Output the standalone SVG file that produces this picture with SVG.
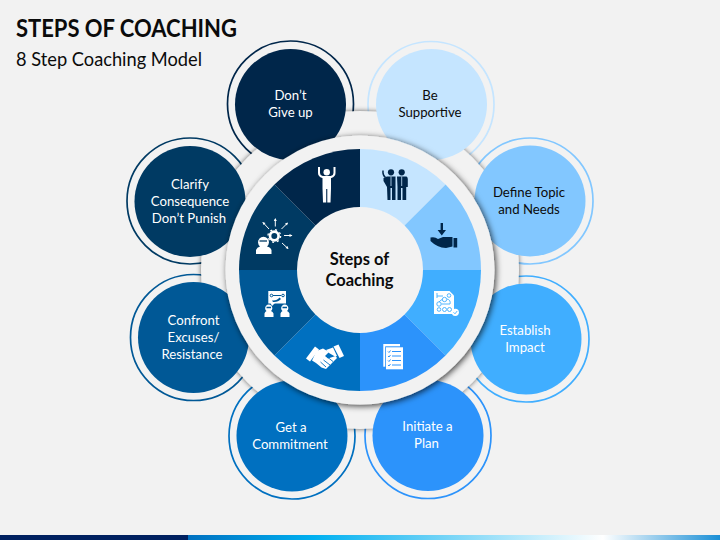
<svg xmlns="http://www.w3.org/2000/svg" width="720" height="540" viewBox="0 0 720 540">
<style>
text{font-family:"Lato","Liberation Sans",sans-serif}
.l{font-size:13.2px;text-anchor:middle;fill:#fff}
.d{fill:#0b0b0b}
.ring{fill:none;stroke-width:1.7}
.w{fill:#fff}.ws{stroke:#fff;fill:none}
.n{fill:#00264a}.ns{stroke:#00264a;fill:none}
</style>
<defs>
<linearGradient id="bar" x1="188" x2="720" y1="0" y2="0" gradientUnits="userSpaceOnUse">
<stop offset="0" stop-color="#0070c0"/><stop offset=".235" stop-color="#00b0f0"/><stop offset=".78" stop-color="#ffffff"/><stop offset="1" stop-color="#1a8fd6"/>
</linearGradient>
<filter id="sh1" x="-10%" y="-10%" width="120%" height="120%"><feDropShadow dx="0" dy="0" stdDeviation="2.5" flood-color="#000" flood-opacity=".6"/></filter>
<filter id="sh2" x="-10%" y="-10%" width="120%" height="120%"><feDropShadow dx="1.500" dy="1.500" stdDeviation="3" flood-color="#000" flood-opacity=".75"/></filter>
</defs>
<rect width="720" height="540" fill="#f2f2f2"/>
<rect y="535" width="188" height="5" fill="#002060"/>
<rect x="188" y="535" width="532" height="5" fill="url(#bar)"/>
<text x="16" y="37" font-size="25" font-weight="700" fill="#0b0b0b" textLength="221" lengthAdjust="spacingAndGlyphs">STEPS OF COACHING</text>
<text x="16" y="66" font-size="18.500" fill="#0b0b0b" textLength="186" lengthAdjust="spacingAndGlyphs">8 Step Coaching Model</text>

<g id="outer-rings">
<circle class="ring" cx="431" cy="104.500" r="63" stroke="#c5e5ff"/>
<circle class="ring" cx="530" cy="201" r="63" stroke="#82c7ff"/>
<circle class="ring" cx="526" cy="339" r="63" stroke="#40aeff"/>
<circle class="ring" cx="428" cy="435.500" r="63" stroke="#2c93fb"/>
<circle class="ring" cx="292" cy="436" r="63" stroke="#0070c0"/>
<circle class="ring" cx="193.500" cy="337.500" r="63" stroke="#005896"/>
<circle class="ring" cx="190" cy="201" r="63" stroke="#003a63"/>
<circle class="ring" cx="290.500" cy="104" r="63" stroke="#00264a"/>
</g>
<circle id="backing-disc" cx="360" cy="270" r="159" fill="#f2f2f2" filter="url(#sh1)"/>

<g id="step-be-supportive"><circle cx="431.500" cy="104.500" r="55.500" fill="#c5e5ff"/><text class="l d" x="430" y="100">Be</text><text class="l d" x="430" y="117">Supportive</text></g>
<g id="step-define-topic"><circle cx="530" cy="201" r="55.500" fill="#82c7ff"/><text class="l d" x="529" y="197">Define Topic</text><text class="l d" x="529" y="214">and Needs</text></g>
<g id="step-establish-impact"><circle cx="526" cy="339" r="55.500" fill="#40aeff"/><text class="l" x="525" y="335">Establish</text><text class="l" x="525" y="352">Impact</text></g>
<g id="step-initiate-plan"><circle cx="428" cy="435.500" r="55.500" fill="#2c93fb"/><text class="l" x="427.500" y="431">Initiate a</text><text class="l" x="426.500" y="448">Plan</text></g>
<g id="step-get-commitment"><circle cx="292" cy="436" r="55.500" fill="#0070c0"/><text class="l" x="291" y="432">Get a</text><text class="l" x="290" y="449">Commitment</text></g>
<g id="step-confront"><circle cx="193.500" cy="337.500" r="55.500" fill="#005896"/><text class="l" x="193.500" y="325">Confront</text><text class="l" x="193.500" y="342">Excuses/</text><text class="l" x="192" y="359">Resistance</text></g>
<g id="step-clarify"><circle cx="190" cy="201.500" r="55.500" fill="#003a63"/><text class="l" x="190" y="189">Clarify</text><text class="l" x="190" y="206">Consequence</text><text class="l" x="189" y="223">Don’t Punish</text></g>
<g id="step-dont-give-up"><circle cx="290.500" cy="104.500" r="55.500" fill="#00264a"/><text class="l" x="290.500" y="100">Don’t</text><text class="l" x="290.500" y="117">Give up</text></g>

<circle id="mid-disc" cx="360" cy="270" r="134.500" fill="#f2f2f2" filter="url(#sh2)"/>

<g id="slices">
<path d="M360 270V149A121 121 0 0 1 445.560 184.440Z" fill="#c5e5ff"/>
<path d="M360 270L445.560 184.440A121 121 0 0 1 481 270Z" fill="#82c7ff"/>
<path d="M360 270H481A121 121 0 0 1 445.560 355.560Z" fill="#40aeff"/>
<path d="M360 270L445.560 355.560A121 121 0 0 1 360 391Z" fill="#2c93fb"/>
<path d="M360 270V391A121 121 0 0 1 274.440 355.560Z" fill="#0070c0"/>
<path d="M360 270L274.440 355.560A121 121 0 0 1 239 270Z" fill="#005896"/>
<path d="M360 270H239A121 121 0 0 1 274.440 184.440Z" fill="#003a63"/>
<path d="M360 270L274.440 184.440A121 121 0 0 1 360 149Z" fill="#00264a"/>
</g>

<g id="center"><circle cx="360" cy="270" r="63" fill="#f2f2f2"/>
<text x="359.500" y="265" font-size="16.500" font-weight="700" text-anchor="middle" fill="#0b0b0b">Steps of</text>
<text x="359.500" y="286" font-size="16.500" font-weight="700" text-anchor="middle" fill="#0b0b0b">Coaching</text></g>

<g id="icon-raised-arms">
<circle class="w" cx="326.700" cy="172.300" r="3.200"/>
<path class="ws" stroke-width="2" d="M319 167V173Q319 176 322.500 177H331Q334.500 176 334.500 173V167"/>
<path class="w" d="M322.500 176.500H331V188.500L330.500 202.500H327.300V189H326.200V202.500H323L322.500 188.500Z"/>
</g>
<g id="icon-two-men">
<circle class="n" cx="391" cy="172.300" r="3.100"/><circle class="n" cx="401.700" cy="172.300" r="3.100"/>
<path class="n" d="M387 176.500H395.500V200H392V188H390.500V200H387.500L387 187L383.500 181V178Z"/>
<path class="n" d="M397 176.500H406.500Q407.800 177 407.800 179V187H406.200V200H402.500V188H401V200H397.500V187Z"/>
<path class="ns" stroke-width="1.500" d="M383 170.500Q382.500 175 385.500 177.500"/>
<path d="M391 176.500V186M401.700 176.500V186" stroke="#c5e5ff" stroke-width=".8"/>
</g>
<g id="icon-hand-arrow">
<path class="n" d="M440.600 223H443V230H446L441.800 235.500L437.600 230H440.600Z"/>
<path class="n" d="M430.500 237.500Q435 236.500 438 239L443 237H452.500V246.500L446 248Q437 247.500 430.500 241Z"/>
<rect class="n" x="453.500" y="238" width="3.700" height="9.500"/>
</g>
<g id="icon-flow-doc">
<path class="w" d="M434 291H449.500L454 295.500V314H434Z"/>
<g fill="none" stroke="#40aeff" stroke-width=".9"><circle cx="439" cy="304" r="2.200"/><circle cx="444.500" cy="299.500" r="2.200"/><circle cx="449" cy="295.500" r="1.800"/><circle cx="444.500" cy="309.500" r="2"/><circle cx="449.500" cy="309.500" r="2"/><circle cx="439" cy="309.500" r="1.800"/><path d="M437 296H443M437 293V298M439 302Q441 299.500 442.500 299.500M447 299Q451 300 450 304H441.500"/></g>
<circle class="w" cx="455.300" cy="312.300" r="3.600"/>
<path d="M453.500 312.300L455 313.800L457.200 311" stroke="#40aeff" fill="none" stroke-width=".9"/>
</g>
<g id="icon-checklist">
<rect class="w" x="383.300" y="344" width="16.700" height="22.700"/>
<rect x="385.200" y="346.300" width="18.800" height="24" fill="#2c93fb"/>
<rect class="w" x="386" y="347.300" width="17" height="22"/>
<g stroke="#2c93fb" stroke-width="1" fill="none"><path d="M388 351.500L389 352.500L390.500 350.500M392 351.500H401M388 356L389 357L390.500 355M392 356H401M388 360.500L389 361.500L390.500 359.500M392 360.500H401M388 365L389 366L390.500 364M392 365H401"/></g>
</g>
<g id="icon-handshake">
<path class="w" d="M306 358.500L315 346.500L319 349.500L310 361.500Z"/>
<path class="w" d="M344 356L339.500 358L333.500 346.500L338.500 344.500Z"/>
<path class="w" d="M316.500 351L323 348.500L329 352L325 356L328 358.500L335.500 356L337 358L333 362L330 365L326 369L321.500 367.500L316 363L312 360.500Z"/>
<path class="w" d="M326 350L333 347.500L337 356L335 356.500L329 353Z"/>
<path d="M326 356L333 361.500M323.500 360L330 365M320.500 362L326 367" stroke="#0070c0" stroke-width=".9" fill="none"/>
</g>
<g id="icon-team-board">
<rect class="w" x="268.300" y="291" width="17.700" height="12.500"/>
<path class="w" d="M270.500 303H275L272 306Z"/>
<g fill="none" stroke="#005896" stroke-width="1"><circle cx="271.500" cy="295.500" r="1.300"/><circle cx="283" cy="295.500" r="1.300"/><path d="M273 295.500H281"/></g>
<path d="M272 300.500Q277 301 279.500 297.500L281 299Q278 302.500 273 302Z" fill="#005896"/>
<path class="w" d="M264.500 317V313.500Q265 311.500 266.500 311A3.600 3.600 0 1 1 271 311Q272.800 311.500 273.500 313.500V317Z"/>
<path class="w" d="M280.500 317V313.500Q281 311.500 282.500 311A3.600 3.600 0 1 1 287 311Q288.800 311.500 289.500 313.500V317Z"/>
<path d="M266.500 307.500H271M282.500 307.500H287" stroke="#005896" stroke-width="1.300"/>
</g>
<g id="icon-gear-person">
<circle cx="274.300" cy="236" r="4.300" fill="none" stroke="#fff" stroke-width="2.700"/>
<circle cx="274.300" cy="236" r="6.300" fill="none" stroke="#fff" stroke-width="1.300" stroke-dasharray="2 2.950"/>
<g class="ws" stroke-width="1"><path d="M275.300 226.500V219M281.500 229L287.500 223M284 235.500H292M282 243L288 248.500M269 229L263 222.500"/></g>
<g class="w"><path d="M275.300 218L273.800 221H276.800ZM292.500 235.500L289.500 234V237ZM288.500 249L287.500 246L285.500 248ZM262.500 222L263.500 225L265.500 223ZM288 222.500L285 223.500L287 225.500Z"/></g>
<path class="w" d="M256 254V250Q257 247 260 246.500A5.500 5.500 0 1 1 267 246.500Q270.500 247 271.500 250V254Z"/>
<path d="M259.500 241H267" stroke="#003a63" stroke-width="1.300"/>
</g>
<g id="connectors"/>
</svg>
